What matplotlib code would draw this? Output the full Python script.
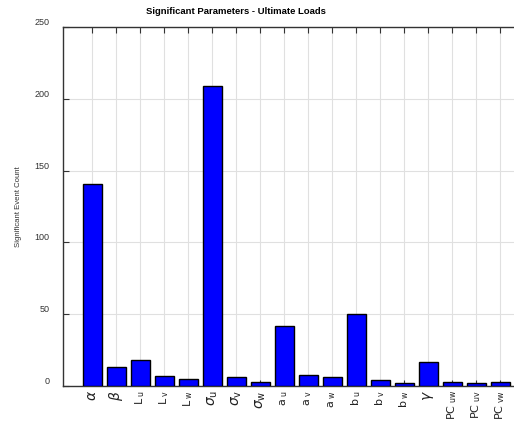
import matplotlib.pyplot as plt

labels = [r'$\alpha$', r'$\beta$',
          r'$\mathsf{L}_{\ \mathsf{u}}$', r'$\mathsf{L}_{\ \mathsf{v}}$', r'$\mathsf{L}_{\ \mathsf{w}}$',
          r'$\sigma_{\mathsf{u}}$', r'$\sigma_{\mathsf{v}}$', r'$\sigma_{\mathsf{w}}$',
          r'$\mathsf{a}_{\ \mathsf{u}}$', r'$\mathsf{a}_{\ \mathsf{v}}$', r'$\mathsf{a}_{\ \mathsf{w}}$',
          r'$\mathsf{b}_{\ \mathsf{u}}$', r'$\mathsf{b}_{\ \mathsf{v}}$', r'$\mathsf{b}_{\ \mathsf{w}}$',
          r'$\gamma$',
          r'$\mathsf{PC}_{\ \mathsf{uw}}$', r'$\mathsf{PC}_{\ \mathsf{uv}}$', r'$\mathsf{PC}_{\ \mathsf{vw}}$']
counts = [141, 13, 18, 7, 5, 209, 6, 3, 42, 8, 6, 50, 4, 2, 17, 3, 2, 3]

plt.rcParams['font.family'] = ['Liberation Sans', 'DejaVu Sans']
plt.rcParams['mathtext.fontset'] = 'dejavusans'

fig = plt.figure(figsize=(5.14, 4.42), dpi=100)
ax = fig.add_axes([63.3 / 514, 1 - 386 / 442, 466 / 514, 359 / 442])

x = list(range(1, len(counts) + 1))
ax.bar(x, counts, width=0.8, color='#0000ff', edgecolor='black', linewidth=1.0, zorder=3)

ax.set_xlim(-0.21, 19.2)
ax.set_ylim(0, 250)
ax.set_xticks(x)
ax.set_xticklabels(labels, rotation=90, ha='center', va='top', fontsize=8)
# greek symbols are drawn larger
for lab in ax.get_xticklabels():
    if '\\mathsf{L}' not in lab.get_text() and lab.get_text().count('mathsf') < 2:
        lab.set_fontsize(10)
ax.set_yticks([0, 50, 100, 150, 200, 250])
ax.grid(True, color='#e0e0e0', linewidth=0.8, zorder=0)
ax.tick_params(direction='in', length=4, width=0.8, top=True, right=False,
               colors='#333333')
ax.tick_params(axis='y', labelsize=6.5, pad=10, labelcolor='#333333')
ax.tick_params(axis='x', pad=3, labelcolor='#222222')
for lab in ax.get_yticklabels():
    lab.set_va('bottom')
for side in ['left', 'bottom', 'top']:
    ax.spines[side].set_color('#333333')
    ax.spines[side].set_linewidth(1.0)
ax.spines['right'].set_visible(False)

ax.set_ylabel('Significant Event Count', fontsize=5.6, color='#333333', labelpad=9)
fig.text(236 / 514, 1 - 12 / 442, 'Significant Parameters - Ultimate Loads',
         ha='center', va='center', fontsize=6.8, fontweight='bold')

fig.savefig('out.png', dpi=100)
